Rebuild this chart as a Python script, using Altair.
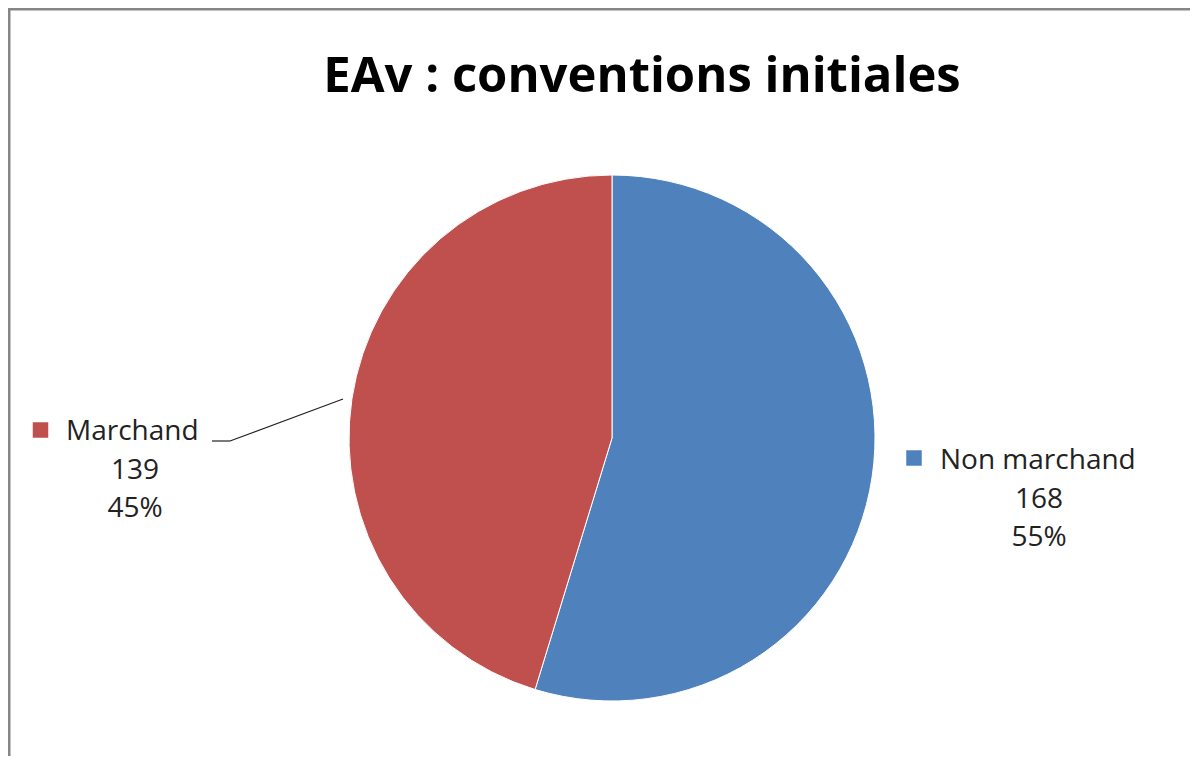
import altair as alt
import pandas as pd

categories = ["Non marchand", "Marchand"]
values = [168, 139]
percents = ["55%", "45%"]
order_idx = [0, 1]
colors = ["#4F81BD", "#C0504D"]

df = pd.DataFrame({"cat": categories, "val": values, "pct": percents, "idx": order_idx})
df["valtxt"] = df["val"].astype(str)

W, H = 1182, 748
FONT = "Open Sans"
TXT = "#222222"
color_scale = alt.Scale(domain=categories, range=colors)

base = alt.Chart(df)

pie = base.mark_arc(stroke="white", strokeWidth=1, outerRadius=263).encode(
    theta=alt.Theta("val:Q", stack=True),
    color=alt.Color("cat:N", scale=color_scale, legend=None),
    order=alt.Order("idx:Q"),
    x=alt.value(604),
    y=alt.value(430),
)

def label(cat, sq_x, sq_y, tx, ty, cx, dy_line):
    d = base.transform_filter(alt.datum.cat == cat)
    sq = d.mark_square(size=240, opacity=1).encode(
        x=alt.value(sq_x), y=alt.value(sq_y),
        color=alt.Color("cat:N", scale=color_scale, legend=None),
    )
    name = d.mark_text(align="left", baseline="alphabetic", font=FONT, fontSize=28, color=TXT).encode(
        x=alt.value(tx), y=alt.value(ty), text="cat:N"
    )
    num = d.mark_text(align="center", baseline="alphabetic", font=FONT, fontSize=28, color=TXT).encode(
        x=alt.value(cx), y=alt.value(ty + dy_line), text="valtxt:N"
    )
    pct = d.mark_text(align="center", baseline="alphabetic", font=FONT, fontSize=28, color=TXT).encode(
        x=alt.value(cx), y=alt.value(ty + 2 * dy_line), text="pct:N"
    )
    return sq + name + num + pct

lab_m = label("Marchand", 32.5, 422, 58, 432, 127, 38.5)
lab_n = label("Non marchand", 906, 450, 932, 461, 1031, 38.5)

leader1 = base.transform_filter(alt.datum.cat == "Marchand").mark_rule(color="#222222", strokeWidth=1.2).encode(
    x=alt.value(204), x2=alt.value(222), y=alt.value(433), y2=alt.value(433)
)
leader2 = base.transform_filter(alt.datum.cat == "Marchand").mark_rule(color="#222222", strokeWidth=1.2).encode(
    x=alt.value(222), x2=alt.value(335), y=alt.value(433), y2=alt.value(391)
)

border_top = base.transform_filter(alt.datum.idx == 0).mark_rule(color="#868686", strokeWidth=2.5).encode(
    x=alt.value(0), x2=alt.value(W), y=alt.value(1.25), y2=alt.value(1.25)
)
border_left = base.transform_filter(alt.datum.idx == 0).mark_rule(color="#868686", strokeWidth=2.5).encode(
    x=alt.value(1.25), x2=alt.value(1.25), y=alt.value(0), y2=alt.value(H + 8)
)

chart = alt.layer(
    border_top, border_left, pie, leader1, leader2, lab_m, lab_n
).properties(
    width=W,
    height=H,
    padding=0,
    autosize=alt.AutoSizeParams(type="none"),
    title=alt.Title(
        "EAv : conventions initiales",
        font=FONT,
        fontSize=49,
        fontWeight="bold",
        color="#000000",
        anchor="middle",
        frame="group",
        baseline="alphabetic",
        offset=0,
        dx=43,
        dy=134,
    ),
).configure_view(stroke=None).configure(background="white")

chart.save("out.html", embed_options={"renderer": "svg", "actions": False})
